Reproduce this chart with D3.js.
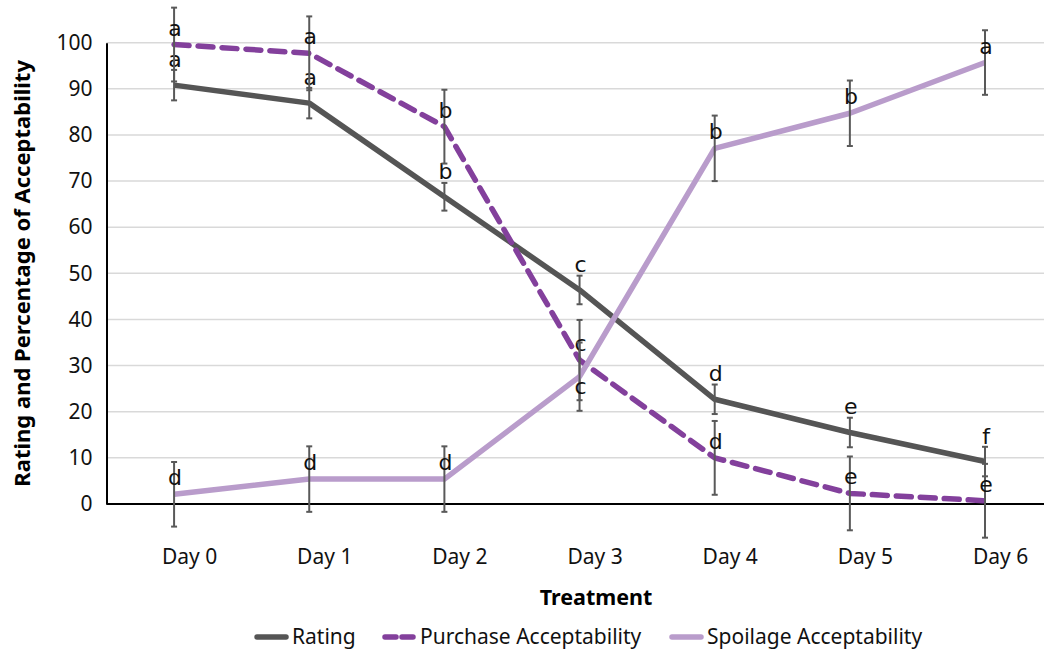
<!DOCTYPE html>
<html lang="en">
<head>
    <meta charset="UTF-8">
    <title>Rating and Acceptability</title>
    <style>
        body { margin: 0; background: #fff; }
        svg text { font-family: "Noto Sans", sans-serif; }
    </style>
</head>
<body>
    <script src="https://cdnjs.cloudflare.com/ajax/libs/d3/7.8.5/d3.min.js"></script>
    <script>
        // data
        const days = ['Day 0', 'Day 1', 'Day 2', 'Day 3', 'Day 4', 'Day 5', 'Day 6'];
        const yTicks = [0, 10, 20, 30, 40, 50, 60, 70, 80, 90, 100];

        const rating = [90.8, 86.9, 66.6, 46.4, 22.7, 15.5, 9.2];
        const ratingErr = [3.3, 3.3, 3.0, 3.1, 3.2, 3.2, 3.2];
        const ratingLetters = ['a', 'a', 'b', 'c', 'd', 'e', 'f'];

        const purchase = [99.6, 97.7, 81.8, 31.2, 10.0, 2.3, 0.7];
        const purchaseErr = [8.0, 8.0, 8.0, 8.7, 8.0, 8.0, 8.0];
        const purchaseLetters = ['a', 'a', 'b', 'c', 'd', 'e', 'e'];

        const spoilage = [2.1, 5.4, 5.4, 27.6, 77.1, 84.7, 95.7];
        const spoilageErr = [7.0, 7.1, 7.1, 7.4, 7.1, 7.1, 7.0];
        const spoilageLetters = ['d', 'd', 'd', 'c', 'b', 'b', 'a'];

        const width = 1044, height = 658;
        const margin = {top: 42.7, left: 106.5, bottom: 154};
        const plotRight = 1052.6;

        const series = [
            {name: 'Rating', values: rating, err: ratingErr, letters: ratingLetters,
             color: '#555555', dash: null, labelUp: 18},
            {name: 'Purchase Acceptability', values: purchase, err: purchaseErr, letters: purchaseLetters,
             color: '#83409c', dash: '15,9', labelUp: 9},
            {name: 'Spoilage Acceptability', values: spoilage, err: spoilageErr, letters: spoilageLetters,
             color: '#b99ccb', dash: null, labelUp: 9}
        ];

        const svg = d3.select('body').append('svg')
            .attr('width', width)
            .attr('height', height);

        const x = d3.scalePoint()
            .domain(days)
            .range([margin.left, plotRight])
            .padding(0.5);

        const y = d3.scaleLinear()
            .domain([0, 100])
            .range([height - margin.bottom, margin.top]);

        // gridlines
        svg.append('g')
            .selectAll('line')
            .data(yTicks.filter(d => d > 0))
            .enter().append('line')
            .attr('x1', margin.left).attr('x2', plotRight)
            .attr('y1', d => y(d)).attr('y2', d => y(d))
            .attr('stroke', '#d9d9d9')
            .attr('stroke-width', 1.5);

        // y axis
        const yAxis = d3.axisLeft(y).tickValues(yTicks).tickSize(0).tickPadding(14);
        const gy = svg.append('g')
            .attr('transform', `translate(${margin.left},0)`)
            .call(yAxis);
        gy.select('.domain').attr('stroke', '#000').attr('stroke-width', 2);
        gy.selectAll('text').attr('font-size', 21).attr('fill', '#111')
            .style('font-family', '"Noto Sans", sans-serif');

        // x axis (labels sit a little right of the points, as in the original)
        const xAxis = d3.axisBottom(x).tickSize(0).tickPadding(45);
        const gx = svg.append('g')
            .attr('transform', `translate(0,${y(0)})`)
            .call(xAxis);
        gx.select('.domain').attr('stroke', '#000').attr('stroke-width', 2)
            .attr('d', `M${margin.left},0H${plotRight}`);
        gx.selectAll('text').attr('font-size', 21).attr('fill', '#111')
            .attr('dx', 15)
            .style('font-family', '"Noto Sans", sans-serif');

        // axis titles
        svg.append('text')
            .attr('x', 596)
            .attr('y', 605)
            .attr('text-anchor', 'middle')
            .attr('font-size', 21.5)
            .attr('font-weight', 'bold')
            .text('Treatment');

        svg.append('text')
            .attr('transform', `translate(30, ${(y(0) + y(100)) / 2}) rotate(-90)`)
            .attr('text-anchor', 'middle')
            .attr('font-size', 22)
            .attr('font-weight', 'bold')
            .text('Rating and Percentage of Acceptability');

        const line = d3.line()
            .x((d, i) => x(days[i]))
            .y(d => y(d));

        series.forEach(s => {
            const g = svg.append('g');

            const path = g.append('path')
                .datum(s.values)
                .attr('d', line)
                .attr('fill', 'none')
                .attr('stroke', s.color)
                .attr('stroke-width', 5.5)
                .attr('stroke-linejoin', 'round');
            if (s.dash) path.attr('stroke-dasharray', s.dash).attr('stroke-linecap', 'round');

            // error bars
            const eb = g.selectAll('.eb').data(s.values).enter().append('g').attr('class', 'eb');
            eb.append('line')
                .attr('x1', (d, i) => x(days[i])).attr('x2', (d, i) => x(days[i]))
                .attr('y1', (d, i) => y(d + s.err[i])).attr('y2', (d, i) => y(d - s.err[i]))
                .attr('stroke', '#595959').attr('stroke-width', 2);
            [1, -1].forEach(sign => {
                eb.append('line')
                    .attr('x1', (d, i) => x(days[i]) - 3).attr('x2', (d, i) => x(days[i]) + 3)
                    .attr('y1', (d, i) => y(d + sign * s.err[i])).attr('y2', (d, i) => y(d + sign * s.err[i]))
                    .attr('stroke', '#595959').attr('stroke-width', 2);
            });

            // significance letters
            g.selectAll('.lt').data(s.values).enter().append('text')
                .attr('class', 'lt')
                .attr('x', (d, i) => x(days[i]) + 1)
                .attr('y', (d, i) => (s.name === 'Spoilage Acceptability' && i === 3) ? y(d) + 17 : y(d) - s.labelUp)
                .attr('text-anchor', 'middle')
                .attr('font-size', 22)
                .attr('fill', '#111')
                .style('font-family', '"DejaVu Sans", sans-serif')
                .text((d, i) => s.letters[i]);
        });

        // legend
        const legendX = [257, 385, 672];
        const legend = svg.append('g');
        series.forEach((s, i) => {
            const lg = legend.append('g').attr('transform', `translate(${legendX[i]}, 637)`);
            lg.append('line')
                .attr('x1', 0).attr('x2', 29)
                .attr('stroke', s.color)
                .attr('stroke-width', 5.5)
                .attr('stroke-linecap', 'round')
                .attr('stroke-dasharray', s.dash ? '11,6' : null);
            lg.append('text')
                .attr('x', 35)
                .attr('y', 7)
                .attr('font-size', 21)
                .attr('fill', '#111')
                .text(s.name);
        });
    </script>
</body>
</html>
